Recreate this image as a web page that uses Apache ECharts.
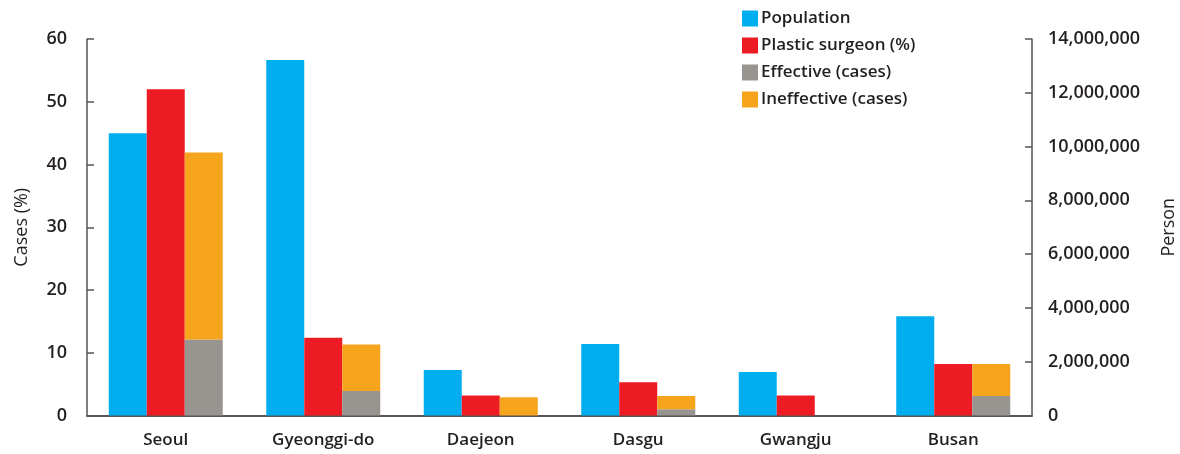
<!DOCTYPE html>
<html><head><meta charset="utf-8">
<script src="https://cdn.jsdelivr.net/npm/echarts@6/dist/echarts.min.js"></script>
<style>html,body{margin:0;padding:0;background:#fff}#c{width:1180px;height:454px}</style>
</head><body><div id="c"></div>
<script>
const categories = ['Seoul', 'Gyeonggi-do', 'Daejeon', 'Dasgu', 'Gwangju', 'Busan'];
const population = [10500000, 13220000, 1690000, 2660000, 1620000, 3690000];
const plasticSurgeon = [52.0, 12.4, 3.2, 5.3, 3.2, 8.2];
const effective = [12.1, 3.9, 0, 1.0, 0, 3.1];
const ineffective = [29.8, 7.4, 2.9, 2.1, 0, 5.1];
const leftTicks = [0, 10, 20, 30, 40, 50, 60];
const rightTicks = [0, 2000000, 4000000, 6000000, 8000000, 10000000, 12000000, 14000000];

const FONT = '"Open Sans", sans-serif';
const TXT = '#231f20';
const AX = '#555555';
const W = 600;
const chart = echarts.init(document.getElementById('c'));
const axisCommon = {
  axisLine: {show: true, lineStyle: {color: AX, width: 1.5}},
  axisTick: {show: true, inside: true, length: 7, lineStyle: {color: AX, width: 1.5}},
  splitLine: {show: false},
  nameLocation: 'middle',
  nameTextStyle: {fontFamily: FONT, fontSize: 18, color: TXT}
};
chart.setOption({
  animation: false,
  textStyle: {fontFamily: FONT},
  legend: {
    orient: 'vertical', left: 737, top: 5,
    itemWidth: 16, itemHeight: 16, itemGap: 10,
    icon: 'rect',
    textStyle: {fontFamily: FONT, fontSize: 17, fontWeight: W, color: TXT, padding: [0,0,0,-2]},
    data: ['Population', 'Plastic surgeon (%)', 'Effective (cases)', 'Ineffective (cases)']
  },
  grid: {left: 87, right: 148, top: 39, bottom: 38.5, containLabel: false, outerBoundsMode: 'none'},
  xAxis: {
    type: 'category', data: categories,
    axisLine: {lineStyle: {color: AX, width: 2}},
    axisTick: {show: false},
    axisLabel: {fontFamily: FONT, fontSize: 17, fontWeight: W, color: TXT, margin: 16}
  },
  yAxis: [
    Object.assign({}, axisCommon, {
      type: 'value', min: 0, max: 60, interval: 10, position: 'left',
      name: 'Cases (%)', nameGap: 56, nameRotate: 90,
      axisLabel: {fontFamily: FONT, fontSize: 18, fontWeight: W, color: TXT, margin: 20,
        formatter: v => leftTicks.includes(v) ? String(v) : ''}
    }),
    Object.assign({}, axisCommon, {
      type: 'value', min: 0, max: 14000000, interval: 2000000, position: 'right',
      name: 'Person', nameGap: 128, nameRotate: 90,
      axisLabel: {fontFamily: FONT, fontSize: 18, fontWeight: W, color: TXT, margin: 16,
        formatter: v => rightTicks.includes(v) ? v.toLocaleString('en-US') : ''}
    })
  ],
  series: [
    {name: 'Population', type: 'bar', yAxisIndex: 1, data: population, barWidth: 38, barGap: '0%',
      itemStyle: {color: '#00aeef'}},
    {name: 'Plastic surgeon (%)', type: 'bar', yAxisIndex: 0, data: plasticSurgeon, barWidth: 38, barGap: '0%',
      itemStyle: {color: '#ed1c24'}},
    {name: 'Effective (cases)', type: 'bar', yAxisIndex: 0, stack: 'cases', data: effective, barWidth: 38, barGap: '0%',
      itemStyle: {color: '#98948f'}},
    {name: 'Ineffective (cases)', type: 'bar', yAxisIndex: 0, stack: 'cases', data: ineffective, barWidth: 38, barGap: '0%',
      itemStyle: {color: '#f7a41d'}}
  ]
});
</script></body></html>
